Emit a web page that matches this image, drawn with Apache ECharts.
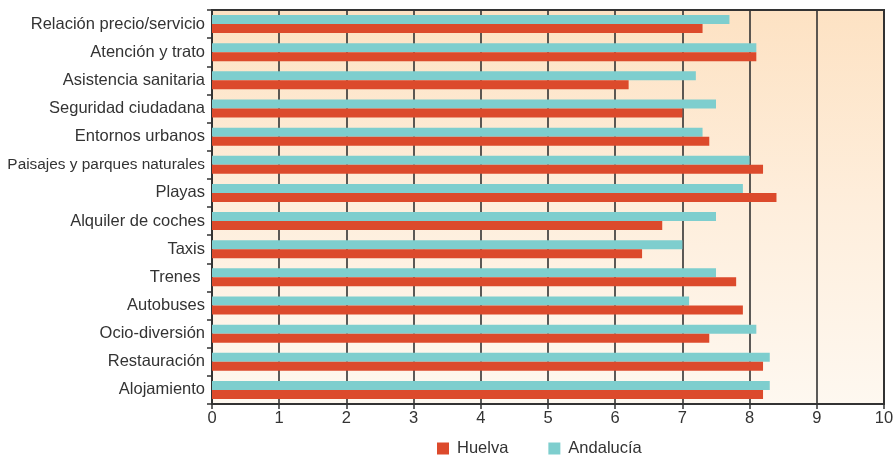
<!DOCTYPE html>
<html>
<head>
<meta charset="utf-8">
<script src="https://cdn.jsdelivr.net/npm/echarts@6/dist/echarts.min.js"></script>
<style>
html,body{margin:0;padding:0;background:#fff;}
#chart{width:895px;height:459px;}
</style>
</head>
<body>
<div id="chart"></div>
<script>
// Categories listed bottom-to-top (axis runs upward)
const categories = ["Alojamiento","Restauración","Ocio-diversión","Autobuses","Trenes ","Taxis","Alquiler de coches","Playas","Paisajes y parques naturales","Entornos urbanos","Seguridad ciudadana","Asistencia sanitaria","Atención y trato","Relación precio/servicio"];
const huelva    = [8.2, 8.2, 7.4, 7.9, 7.8, 6.4, 6.7, 8.4, 8.2, 7.4, 7.0, 6.2, 8.1, 7.3];
const andalucia = [8.3, 8.3, 8.1, 7.1, 7.5, 7.0, 7.5, 7.9, 8.0, 7.3, 7.5, 7.2, 8.1, 7.7];
const xTicks = [0,1,2,3,4,5,6,7,8,9,10];

const chart = echarts.init(document.getElementById('chart'), null, {renderer:'canvas'});
const font = '"Liberation Sans", Arial, Helvetica, sans-serif';
const dark = '#333333';
const fs = 16.5;
chart.setOption({
  animation:false,
  grid:{
    left:212, right:11, top:10, bottom:55,
    containLabel:false,
    outerBoundsMode:'none',
    show:true,
    borderColor:dark, borderWidth:2,
    backgroundColor:new echarts.graphic.LinearGradient(0,0,0,1,[
      {offset:0,color:'#fde2c3'},{offset:0.5,color:'#feeedc'},{offset:1,color:'#fef8f0'}])
  },
  legend:{
    data:['Huelva','Andalucía'],
    left:437, top:440, padding:0,
    itemWidth:12, itemHeight:12, itemGap:40,
    icon:'rect',
    textStyle:{fontFamily:font,fontSize:fs,color:dark,padding:[0,0,0,3]}
  },
  xAxis:{
    type:'value', min:xTicks[0], max:xTicks[xTicks.length-1], interval:1,
    axisLine:{show:true,lineStyle:{color:dark,width:2}},
    axisTick:{show:true,length:5,lineStyle:{color:dark,width:1.5}},
    axisLabel:{fontFamily:font,fontSize:fs,color:dark,margin:6},
    splitLine:{show:true,lineStyle:{color:'#333333',width:1.6}}
  },
  yAxis:{
    type:'category', data:categories,
    axisLine:{show:true,lineStyle:{color:dark,width:2}},
    axisTick:{show:true,length:5,lineStyle:{color:dark,width:1.5}},
    axisLabel:{fontFamily:font,fontSize:fs,color:dark,margin:7,
      formatter:function(v){ return v.length > 24 ? '{n|' + v + '}' : v; },
      rich:{n:{fontFamily:font,fontSize:15.4,color:dark}}
    }
  },
  series:[
    {name:'Andalucía',type:'bar',data:andalucia,barWidth:9,barGap:'0%',
     itemStyle:{color:'#7ecece'}},
    {name:'Huelva',type:'bar',data:huelva,barWidth:9,barGap:'0%',
     itemStyle:{color:'#dc4a2c'}}
  ]
});
</script>
</body>
</html>
